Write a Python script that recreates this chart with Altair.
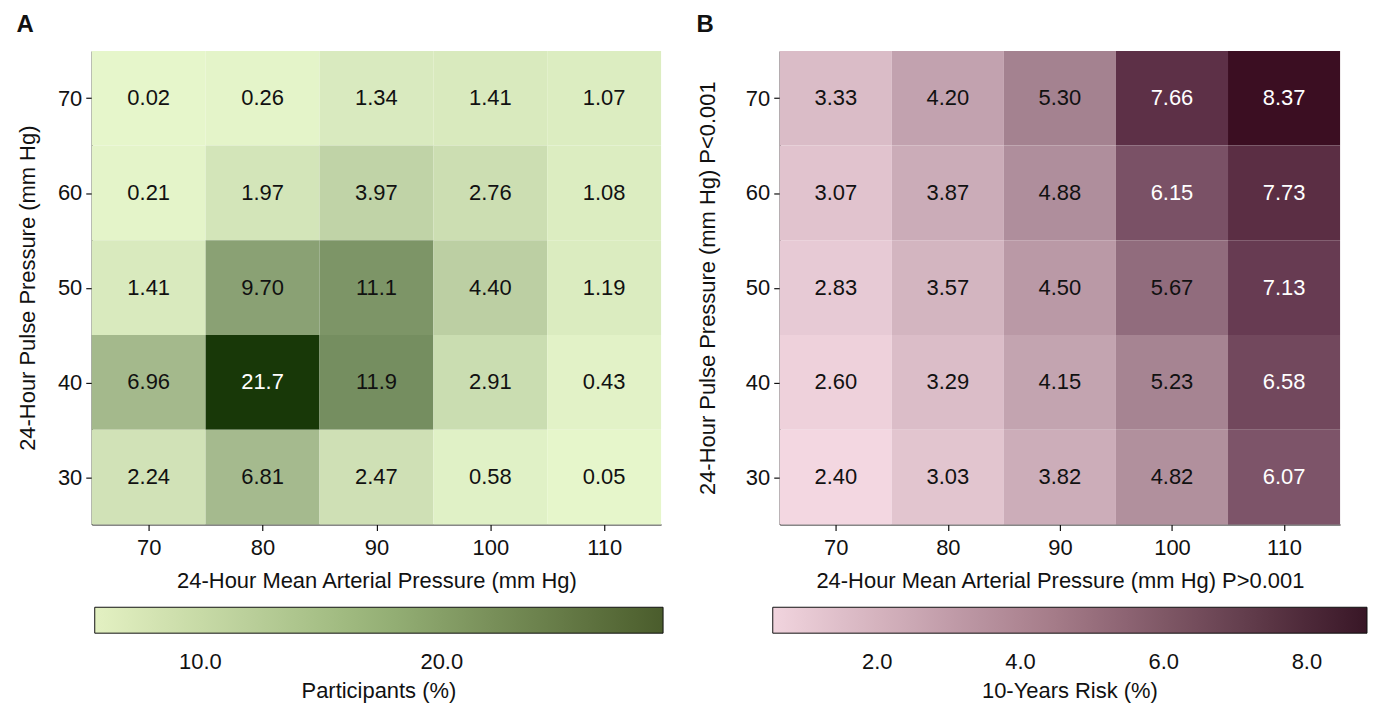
import altair as alt
import pandas as pd

FONT = "Liberation Sans"

# Categories
map_levels = [70, 80, 90, 100, 110]          # 24-hour mean arterial pressure (mm Hg)
pp_levels = [70, 60, 50, 40, 30]             # 24-hour pulse pressure (mm Hg), top to bottom

# Panel A: participants (%) rows top (PP 70) to bottom (PP 30)
participants = [
    [0.02, 0.26, 1.34, 1.41, 1.07],
    [0.21, 1.97, 3.97, 2.76, 1.08],
    [1.41, 9.70, 11.1, 4.40, 1.19],
    [6.96, 21.7, 11.9, 2.91, 0.43],
    [2.24, 6.81, 2.47, 0.58, 0.05],
]

# Panel B: 10-year risk (%)
risk = [
    [3.33, 4.20, 5.30, 7.66, 8.37],
    [3.07, 3.87, 4.88, 6.15, 7.73],
    [2.83, 3.57, 4.50, 5.67, 7.13],
    [2.60, 3.29, 4.15, 5.23, 6.58],
    [2.40, 3.03, 3.82, 4.82, 6.07],
]

legend_ticks_a = [10, 20]
legend_ticks_b = [2, 4, 6, 8]


def make_df(matrix, fmt):
    rows = []
    for i, pp in enumerate(pp_levels):
        for j, mp in enumerate(map_levels):
            v = matrix[i][j]
            rows.append({
                "map": mp, "pp": pp,
                "x0": mp - 5, "x1": mp + 5,
                "y0": pp - 5, "y1": pp + 5,
                "value": v, "label": fmt(v),
            })
    return pd.DataFrame(rows)


df_a = make_df(participants, lambda v: f"{v:.2f}" if v < 10 else f"{v:.1f}")
df_b = make_df(risk, lambda v: f"{v:.2f}")


def panel(df, width, letter, xtitle, ytitle, ytitle_pad,
          fill_dom, fill_rng, leg_dom, leg_rng, leg_vals, leg_title,
          leg_x, leg_len, white_thr):
    xs = alt.Scale(domain=[65, 115], nice=False, zero=False)
    ys = alt.Scale(domain=[25, 75], nice=False, zero=False)
    xaxis = alt.Axis(values=map_levels, title=xtitle, titlePadding=12, labelPadding=7)
    yaxis = alt.Axis(values=pp_levels, title=ytitle, titlePadding=ytitle_pad, labelPadding=4)
    base = alt.Chart(df)
    heat = base.mark_rect().encode(
        x=alt.X("x0:Q", scale=xs, axis=xaxis),
        x2="x1:Q",
        y=alt.Y("y0:Q", scale=ys, axis=yaxis),
        y2="y1:Q",
        fill=alt.Fill("value:Q", scale=alt.Scale(domain=fill_dom, range=fill_rng, interpolate="rgb"),
                      legend=None),
    )
    leg = base.mark_rect(fillOpacity=0, strokeWidth=0, strokeOpacity=0).encode(
        x=alt.X("x0:Q", scale=xs, axis=xaxis),
        x2="x1:Q",
        y=alt.Y("y0:Q", scale=ys, axis=yaxis),
        y2="y1:Q",
        stroke=alt.Stroke("value:Q", scale=alt.Scale(domain=leg_dom, range=leg_rng, interpolate="rgb"),
                          legend=alt.Legend(
                              orient="none", legendX=leg_x, legendY=558,
                              direction="horizontal",
                              gradientLength=leg_len, gradientThickness=26,
                              gradientStrokeColor="#111", gradientStrokeWidth=1,
                              values=leg_vals, format=".1f",
                              title=leg_title, titleOrient="bottom", titleAnchor="middle",
                              titleFont=FONT, titleFontSize=22, titleFontWeight="normal",
                              titleColor="#111", titlePadding=8,
                              labelFont=FONT, labelFontSize=22, labelColor="#111",
                              labelOffset=19, padding=0,
                          )),
    )
    text = base.mark_text(font=FONT, fontSize=22).encode(
        x=alt.X("map:Q", scale=xs, axis=xaxis),
        y=alt.Y("pp:Q", scale=ys, axis=yaxis),
        text="label:N",
        color=alt.condition(alt.datum.value > white_thr, alt.value("#ffffff"), alt.value("#111111")),
    )
    return alt.layer(heat, leg, text).properties(
        width=width, height=475,
        title=alt.TitleParams(letter, anchor="start", frame="bounds", font=FONT,
                              fontSize=24, fontWeight="bold", color="#111", offset=14),
    )


pa = panel(df_a, 571, "A", "24-Hour Mean Arterial Pressure (mm Hg)",
           "24-Hour Pulse Pressure (mm Hg)", 18,
           [0, 21.7], ["#e6f6cb", "#183808"],
           [5.62, 17, 29.17], ["#e3f1c2", "#9ab57a", "#4a5c2c"],
           legend_ticks_a, "Participants (%)", 3, 570, 15)

pb = panel(df_b, 562, "B", "24-Hour Mean Arterial Pressure (mm Hg) P>0.001",
           "24-Hour Pulse Pressure (mm Hg) P<0.001", 26,
           [2.4, 5.3, 6.1, 7.7, 8.37],
           ["#f3d7e1", "#a48290", "#7b5267", "#5c2f46", "#3b0e22"],
           [0.54, 4.7, 8.84], ["#f1d4de", "#a07684", "#381626"],
           legend_ticks_b, "10-Years Risk (%)", -7, 596, 5.9)

chart = alt.hconcat(pa, pb, spacing=32).resolve_scale(
    fill="independent", stroke="independent"
).resolve_legend(stroke="independent").properties(
    padding={"left": 8, "top": 4, "right": 0, "bottom": 0}
).configure_view(stroke=None).configure_axis(
    labelFont=FONT, titleFont=FONT, labelFontSize=22, titleFontSize=22,
    titleFontWeight="normal", labelColor="#111", titleColor="#111",
    domainColor="#111", tickColor="#111", domainWidth=1.2, tickWidth=1.2,
    tickSize=6, grid=False,
)

chart.save("out.html", embed_options={"renderer": "svg", "actions": False})
